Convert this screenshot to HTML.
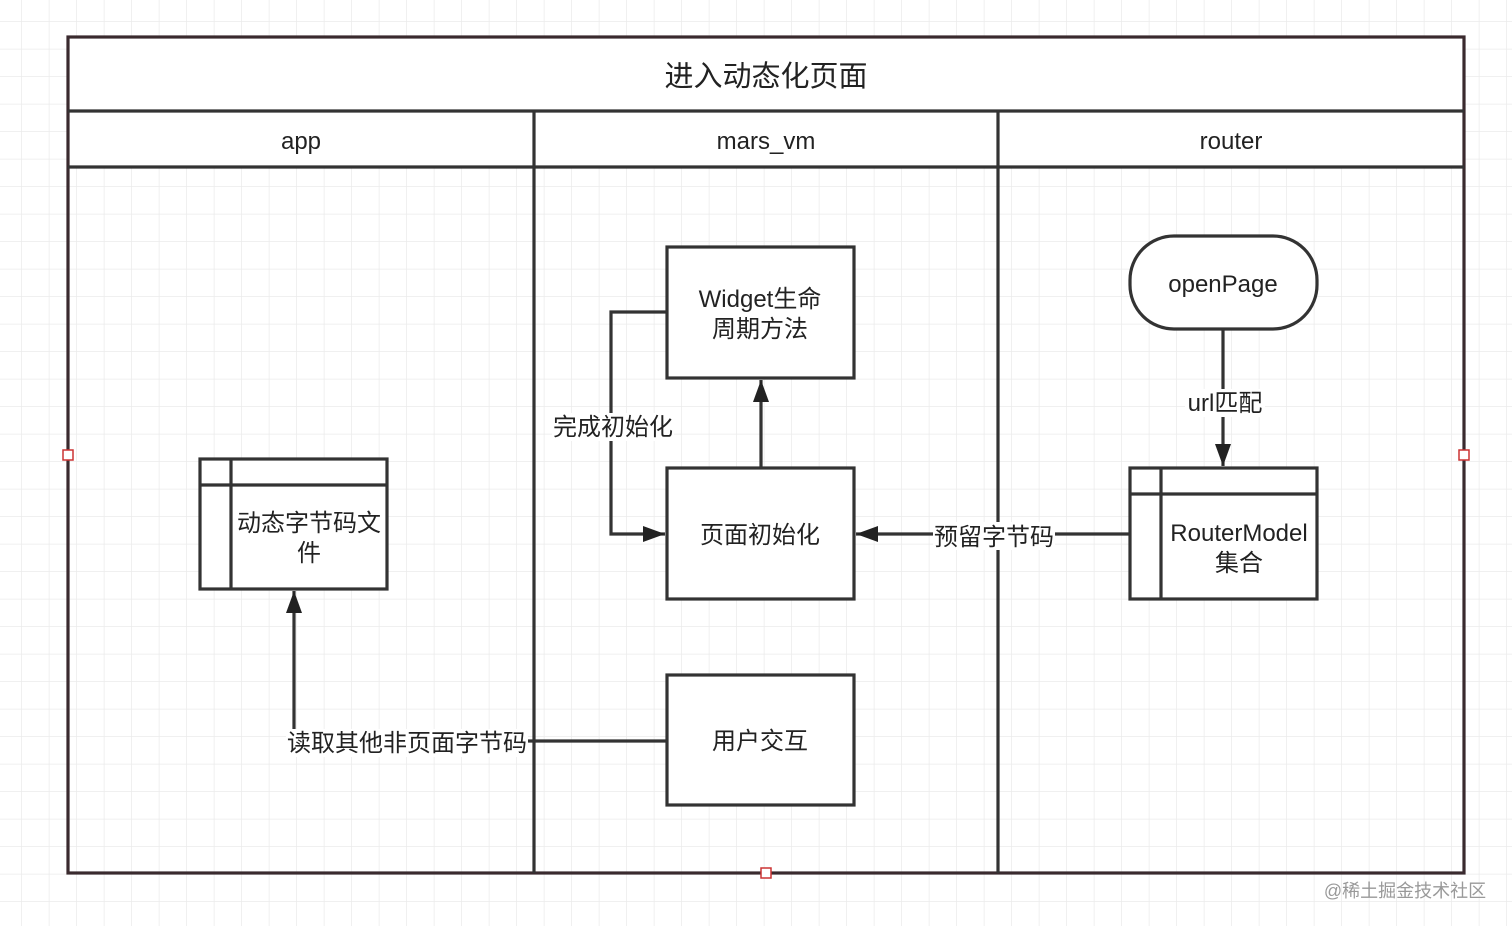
<!DOCTYPE html>
<html><head><meta charset="utf-8"><style>
html,body{margin:0;padding:0;width:1512px;height:926px;overflow:hidden;background:#fff}
svg{display:block}
text{font-family:"Liberation Sans","Noto Sans CJK SC",sans-serif;fill:#222}
</style></head><body>
<svg width="1512" height="926" viewBox="0 0 1512 926" xmlns="http://www.w3.org/2000/svg">
<defs>
<pattern id="g" x="-5.5" y="-5.5" width="27.5" height="27.5" patternUnits="userSpaceOnUse">
<path d="M27.5 0V27.5M0 27.5H27.5" stroke="#ebebeb" stroke-width="1.5" fill="none"/>
</pattern>
<marker id="a" viewBox="0 0 22 16" refX="22" refY="8" markerWidth="22" markerHeight="16" markerUnits="userSpaceOnUse" orient="auto">
<path d="M0 0L22 8L0 16z" fill="#222"/></marker>
</defs>
<rect width="1512" height="926" fill="url(#g)"/>
<rect x="68" y="37" width="1396" height="130" fill="#fff"/>
<g stroke="#333" stroke-width="3.2" fill="none">
<rect x="68" y="37" width="1396" height="836" stroke="#3a2a2e"/>
<line x1="68" y1="111" x2="1464" y2="111"/>
<line x1="68" y1="167" x2="1464" y2="167"/>
<line x1="534" y1="111" x2="534" y2="873"/>
<line x1="998" y1="111" x2="998" y2="873"/>
<rect x="667" y="247" width="187" height="131" fill="#fff"/>
<rect x="667" y="468" width="187" height="131" fill="#fff"/>
<rect x="667" y="675" width="187" height="130" fill="#fff"/>
<rect x="200" y="459" width="187" height="130" fill="#fff"/>
<line x1="200" y1="485" x2="387" y2="485"/><line x1="231" y1="459" x2="231" y2="589"/>
<rect x="1130" y="468" width="187" height="131" fill="#fff"/>
<line x1="1130" y1="494" x2="1317" y2="494"/><line x1="1161" y1="468" x2="1161" y2="599"/>
<rect x="1130" y="236" width="187" height="93" rx="44" fill="#fff"/>
<line x1="1223" y1="329" x2="1223" y2="466" marker-end="url(#a)"/>
<line x1="1130" y1="534" x2="856" y2="534" marker-end="url(#a)"/>
<line x1="761" y1="468" x2="761" y2="380" marker-end="url(#a)"/>
<path d="M667 312H611V534H665" marker-end="url(#a)"/>
<path d="M667 741H294V591" marker-end="url(#a)"/>
</g>
<g fill="#fff">
<rect x="1185" y="389" width="80" height="28"/>
<rect x="933" y="522" width="122" height="28"/>
<rect x="552" y="413" width="122" height="28"/>
<rect x="286" y="729" width="242" height="28"/>
</g>
<g fill="#fff" stroke="#c33" stroke-width="1.5">
<rect x="63" y="450" width="10" height="10"/><rect x="1459" y="450" width="10" height="10"/><rect x="761" y="868" width="10" height="10"/>
</g>
<g text-anchor="middle" font-size="24">
<text x="766" y="86" font-size="29">进入动态化页面</text>
<text x="301" y="149">app</text>
<text x="766" y="149">mars_vm</text>
<text x="1231" y="149">router</text>
<text x="760" y="307">Widget生命</text>
<text x="760" y="337">周期方法</text>
<text x="760" y="543">页面初始化</text>
<text x="760" y="749">用户交互</text>
<text x="309" y="531">动态字节码文</text>
<text x="309" y="561">件</text>
<text x="1239" y="541">RouterModel</text>
<text x="1239" y="571">集合</text>
<text x="1223" y="292">openPage</text>
<text x="1225" y="411">url匹配</text>
<text x="994" y="545">预留字节码</text>
<text x="613" y="435">完成初始化</text>
<text x="407" y="751">读取其他非页面字节码</text>
<text x="1405" y="897" font-size="18" style="fill:#999">@稀土掘金技术社区</text>
</g>
</svg>
</body></html>
